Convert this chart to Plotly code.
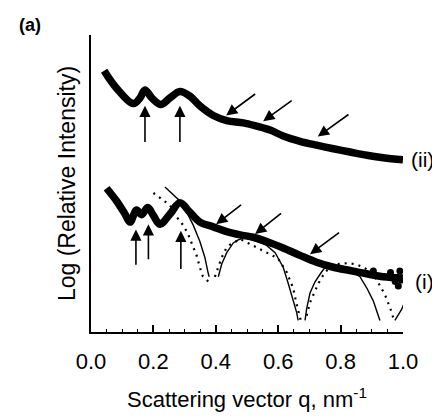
import plotly.graph_objects as go

# ---- data (q in nm^-1, y in arbitrary log units) ----
q_ii = [0.042, 0.082, 0.136, 0.157, 0.173, 0.195, 0.224, 0.253, 0.285, 0.317, 0.349,
        0.392, 0.435, 0.488, 0.531, 0.574, 0.616, 0.670, 0.723, 0.777, 0.830, 0.884,
        0.937, 1.000]
y_ii = [8.80, 8.21, 7.69, 7.88, 8.15, 7.88, 7.66, 7.88, 8.10, 7.94, 7.61,
        7.29, 7.12, 7.04, 6.93, 6.80, 6.60, 6.42, 6.29, 6.17, 6.06, 5.95,
        5.87, 5.80]

q_i = [0.050, 0.082, 0.109, 0.125, 0.146, 0.162, 0.182, 0.200, 0.221, 0.253, 0.285,
       0.317, 0.349, 0.392, 0.435, 0.478, 0.520, 0.563, 0.616, 0.670, 0.723, 0.777,
       0.830, 0.884, 0.937, 1.000]
y_i = [4.84, 4.41, 3.97, 3.70, 4.11, 3.95, 4.19, 3.92, 3.63, 3.97, 4.35,
       4.03, 3.70, 3.54, 3.38, 3.27, 3.19, 3.05, 2.83, 2.58, 2.35, 2.18,
       2.07, 1.96, 1.86, 1.82]

# noisy blobs in the high-q tail of curve (i)
q_i_noise = [0.905, 0.960, 0.975, 0.990, 0.985, 0.995]
y_i_noise = [2.05, 2.00, 1.70, 2.05, 1.55, 1.75]

# model fit (solid) - separate lobes
solid_lobes_q = [
    [0.237, 0.260, 0.285, 0.308, 0.328, 0.349, 0.365, 0.376, 0.379],
    [0.408, 0.419, 0.435, 0.456, 0.472, 0.494, 0.531, 0.561, 0.590, 0.616, 0.632,
     0.648, 0.659, 0.664],
    [0.686, 0.691, 0.702, 0.718, 0.739, 0.755, 0.777, 0.804, 0.837, 0.862, 0.884,
     0.905, 0.926],
    [0.974, 0.996, 1.005],
]
solid_lobes_y = [
    [4.88, 4.66, 4.41, 4.01, 3.59, 3.05, 2.51, 1.96, 1.86],
    [1.86, 2.29, 2.67, 3.00, 3.10, 3.18, 3.05, 2.93, 2.67, 2.18, 1.64,
     1.10, 0.66, 0.39],
    [0.39, 0.77, 1.31, 1.69, 2.02, 2.24, 2.25, 2.18, 2.02, 1.86, 1.48,
     1.04, 0.39],
    [0.39, 0.77, 1.00],
]

# model fit (dotted)
dot_lobes_q = [
    [0.200, 0.227, 0.253, 0.275, 0.296, 0.312, 0.323, 0.339, 0.349, 0.358, 0.387],
    [0.397, 0.408, 0.419, 0.433, 0.446, 0.478, 0.599, 0.627, 0.648, 0.659, 0.668, 0.673],
    [0.691, 0.702, 0.715, 0.729, 0.750, 0.782, 0.825, 0.852, 0.878, 0.910, 0.942,
     0.953, 0.964, 0.971],
]
dot_lobes_y = [
    [4.68, 4.46, 4.27, 3.87, 3.59, 3.27, 3.00, 2.56, 2.18, 1.88, 1.59],
    [1.86, 2.18, 2.51, 2.81, 2.94, 3.13, 2.48, 2.02, 1.48, 0.93, 0.55, 0.36],
    [0.55, 0.99, 1.31, 1.64, 2.02, 2.28, 2.32, 2.27, 2.15, 1.86, 1.26,
     0.99, 0.66, 0.39],
]

# arrows: (head_q, head_y, tail_q, tail_y)
arrows = [
    (0.173, 7.62, 0.173, 6.35), (0.285, 7.62, 0.285, 6.35),
    (0.433, 7.29, 0.531, 8.05), (0.552, 7.10, 0.648, 7.83), (0.727, 6.58, 0.830, 7.36),
    (0.144, 3.45, 0.144, 2.21), (0.184, 3.63, 0.184, 2.40), (0.288, 3.41, 0.288, 2.07),
    (0.401, 3.63, 0.486, 4.32), (0.526, 3.30, 0.614, 4.03), (0.702, 2.62, 0.800, 3.38),
]

curve_labels = ["(ii)", "(i)"]
curve_label_pos = [(1.064, 5.80), (1.070, 1.69)]   # (q, y)

x_ticks = [0.0, 0.2, 0.4, 0.6, 0.8, 1.0]
x_ticktext = ["0.0", "0.2", "0.4", "0.6", "0.8", "1.0"]

FONT = "Liberation Sans, Arial, Helvetica, sans-serif"
Y_MAX = 10.0

fig = go.Figure()
for qs, ys in zip(solid_lobes_q, solid_lobes_y):
    fig.add_trace(go.Scatter(x=qs, y=ys, mode="lines", line=dict(color="black", width=1.4),
                             showlegend=False, hoverinfo="skip"))
for qs, ys in zip(dot_lobes_q, dot_lobes_y):
    fig.add_trace(go.Scatter(x=qs, y=ys, mode="lines",
                             line=dict(color="black", width=2.2, dash="2px,5px"),
                             showlegend=False, hoverinfo="skip"))
fig.add_trace(go.Scatter(x=q_ii, y=y_ii, mode="lines", line=dict(color="black", width=7.5, shape="spline"),
                         showlegend=False))
fig.add_trace(go.Scatter(x=q_i, y=y_i, mode="lines", line=dict(color="black", width=7.5, shape="spline"),
                         showlegend=False))
fig.add_trace(go.Scatter(x=q_i_noise, y=y_i_noise, mode="markers",
                         marker=dict(color="black", size=7), showlegend=False, hoverinfo="skip"))
# empty trace so the tick-mark axis (x2) is drawn
fig.add_trace(go.Scatter(x=[], y=[], xaxis="x2", yaxis="y", showlegend=False, hoverinfo="skip"))

for hx, hy, tx, ty in arrows:
    fig.add_annotation(x=hx, y=hy, ax=tx, ay=ty, xref="x", yref="y", axref="x", ayref="y",
                       text="", showarrow=True, arrowhead=2, arrowsize=1.4, arrowwidth=1.6,
                       arrowcolor="black")

for lab, (lx, ly) in zip(curve_labels, curve_label_pos):
    fig.add_annotation(x=lx, y=ly / Y_MAX, xref="paper", yref="paper", text=lab, showarrow=False,
                       xanchor="center", yanchor="middle",
                       font=dict(family=FONT, size=21, color="black"))

fig.add_annotation(x=-0.196, y=1.033, xref="paper", yref="paper", text="<b>(a)</b>",
                   showarrow=False, xanchor="center", yanchor="middle",
                   font=dict(family=FONT, size=18, color="black"))

# the page body adds an 8px margin, so the figure is 8px smaller than the window
fig.update_layout(
    width=432, height=412,
    margin=dict(l=83, r=37, t=27, b=78),
    plot_bgcolor="white", paper_bgcolor="white",
    font=dict(family=FONT, size=22, color="black"),
    showlegend=False,
    xaxis=dict(
        range=[0, 1.0], showgrid=False, zeroline=False,
        showline=True, linecolor="black", linewidth=2,
        tickmode="array", tickvals=x_ticks, ticktext=x_ticktext,
        # transparent outside ticks only push the labels down
        ticks="outside", ticklen=9, tickcolor="rgba(0,0,0,0)",
        tickfont=dict(family=FONT, size=22),
        title=dict(text="Scattering vector q, nm<sup>-1</sup>", standoff=18,
                   font=dict(family=FONT, size=22)),
    ),
    xaxis2=dict(
        overlaying="x", matches="x", anchor="y", side="bottom",
        range=[0, 1.0], showgrid=False, zeroline=False, showline=False,
        tickmode="array", tickvals=x_ticks, showticklabels=False,
        ticks="inside", ticklen=7, tickwidth=1.5, tickcolor="black",
        minor=dict(dtick=0.05, ticks="inside", ticklen=3, tickwidth=1.2, tickcolor="black"),
    ),
    yaxis=dict(
        range=[0, Y_MAX], showgrid=False, zeroline=False,
        showline=True, linecolor="black", linewidth=2,
        showticklabels=False, ticks="",
        title=dict(text="Log (Relative Intensity)", standoff=7,
                   font=dict(family=FONT, size=23)),
    ),
)

fig.write_html("out.html")
